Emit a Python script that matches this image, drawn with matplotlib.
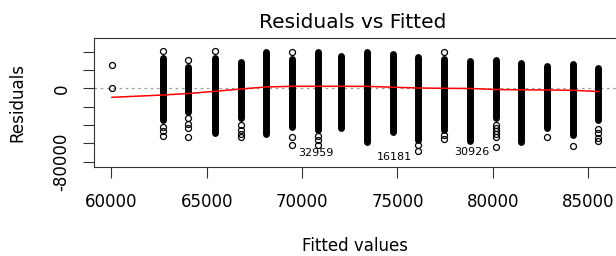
import matplotlib
matplotlib.use("Agg")
import matplotlib.pyplot as plt

# Fitted value of each vertical band and the range of the dense residual strip
fitted = [62725, 64036, 65435, 66782, 68092, 69471, 70818, 72039, 73417,
          74764, 76090, 77453, 78816, 80147, 81457, 82820, 84182, 85524]
res_top = [33390, 23240, 33390, 29020, 39930, 31640, 39930, 35240, 39930,
           37750, 34150, 31640, 29790, 30550, 27930, 24330, 26180, 21820]
res_bottom = [-34590, -25530, -49310, -32730, -49860, -41900, -45500, -42990, -58260,
              -47350, -56410, -45500, -57500, -32730, -58260, -43640, -50950, -34590]

# isolated points
out_x = [60037, 60037,
         62725, 62725, 62725, 62725,
         64036, 64036, 64036, 64036, 64036,
         65435,
         66782, 66782, 66782, 66782,
         69471, 69471, 69471,
         70818, 70818, 70818,
         76090, 76090,
         77453, 77453, 77453,
         80147, 80147, 80147, 80147, 80147, 80147,
         82820, 84182,
         85524, 85524, 85524, 85524]
out_y = [25090, 330,
         41020, -42550, -46910, -52370,
         30880, -32400, -38950, -43320, -52810,
         41020,
         -40370, -45170, -49860, -52810,
         39600, -52810, -62190,
         -52370, -56080, -61530,
         -62190, -68740,
         39600, -50620, -54990,
         -40370, -43860, -47130, -49860, -53460, -64370,
         -52810, -63280,
         -44080, -48770, -54230, -57830]

# lowess smooth
smooth_x = [60037] + fitted
smooth_y = [-9820, -7300, -5670, -3270, -760, 1420, 2180, 2180, 2180, 2070,
            1200, 330, 0, -220, -1310, -1640, -1850, -2180, -3490]

# labelled observations
id_labels = ["32959", "16181", "30926"]
id_x = [70729, 74843, 78878]
id_y = [-70590, -74960, -69500]

yticks = [-80000, -60000, -40000, -20000, 0, 20000, 40000]
ytick_labels = ["-80000", "", "", "", "0", "", ""]
xticks = [60000, 65000, 70000, 75000, 80000, 85000]

plt.rcParams['font.family'] = ['DejaVu Sans']

fig = plt.figure(figsize=(6.16, 2.56), dpi=100)
ax = fig.add_axes([94 / 616, 1 - 166.7 / 256, 526 / 616, 128.7 / 256])

ax.axhline(0, color="#999999", linestyle=(0, (2, 3)), lw=0.9, zorder=1)
ax.vlines(fitted, res_bottom, res_top, colors="black", lw=5, capstyle="round", zorder=2)
ax.plot(out_x, out_y, "o", mfc="none", mec="black", ms=4.3, mew=0.9, zorder=3)
ax.plot(smooth_x, smooth_y, color="red", lw=1.1, zorder=4)
for lab, x, y in zip(id_labels, id_x, id_y):
    ax.text(x, y, lab, fontsize=8, ha="center", va="center")

ax.set_xlim(59093, 86662)
ax.set_ylim(-85540, 54880)
ax.set_xticks(xticks)
ax.set_xticklabels([str(t) for t in xticks], fontsize=12)
ax.set_yticks(yticks)
ax.set_yticklabels(ytick_labels, fontsize=12, rotation=90, va="center")
ax.tick_params(length=8, width=0.8, color="#333333")
ax.tick_params(axis="x", pad=11)
ax.tick_params(axis="y", pad=9)
for s in ax.spines.values():
    s.set_linewidth(0.8)
    s.set_color("#333333")

fig.text(353 / 616, 1 - 28 / 256, "Residuals vs Fitted", fontsize=14.5, ha="center", va="baseline")
fig.text(355 / 616, 1 - 250.7 / 256, "Fitted values", fontsize=12, ha="center", va="baseline")
fig.text(17 / 616, 1 - 103 / 256, "Residuals", fontsize=12, rotation=90, ha="center", va="center")

fig.savefig("out.png", dpi=100)
